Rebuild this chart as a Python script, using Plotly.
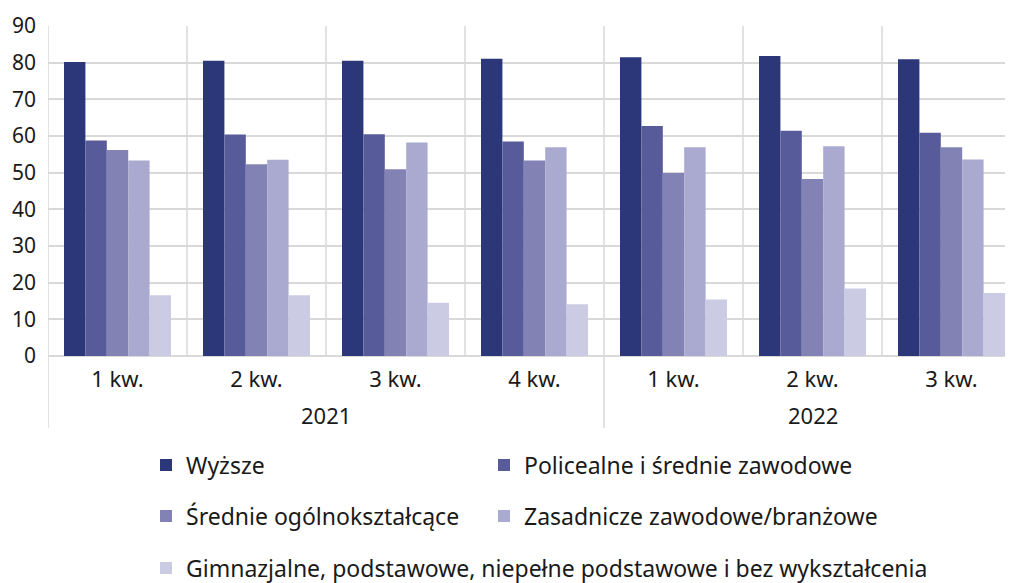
import plotly.graph_objects as go

quarters = ["1 kw.", "2 kw.", "3 kw.", "4 kw.", "1 kw.", "2 kw.", "3 kw."]
years = ["2021", "2022"]
year_spans = [(0, 3), (4, 6)]

series_names = [
    "Wyższe",
    "Policealne i średnie zawodowe",
    "Średnie ogólnokształcące",
    "Zasadnicze zawodowe/branżowe",
    "Gimnazjalne, podstawowe, niepełne podstawowe i bez wykształcenia",
]
wyzsze = [80.2, 80.5, 80.5, 81.1, 81.5, 81.8, 80.9]
policealne = [58.8, 60.4, 60.5, 58.5, 62.7, 61.4, 60.9]
srednie = [56.2, 52.3, 50.9, 53.3, 49.9, 48.3, 56.9]
zasadnicze = [53.3, 53.5, 58.2, 56.9, 56.9, 57.2, 53.6]
gimnazjalne = [16.6, 16.6, 14.5, 14.1, 15.4, 18.4, 17.2]
series_values = [wyzsze, policealne, srednie, zasadnicze, gimnazjalne]
colors = ["#2b3778", "#585b99", "#8283b4", "#aaaad0", "#cbcbe4"]
legend_ids = ["legend", "legend2", "legend3", "legend4", "legend5"]

FONT = "Noto Sans"
TXT = "#1a1a1a"
GRID = "#d9d9d9"

# page has an 8px body margin; size the figure to the visible area
OFF = 8
W, H = 1013 - OFF, 583 - OFF
ML, MT = 48 - OFF, 26 - OFF
zero_px = 356 - OFF
MB = H - zero_px
plot_h = H - MT - MB
cat_px = 139.0
x_right = -0.5 + (W - ML) / cat_px

xs = list(range(len(quarters)))
fig = go.Figure()
for name, vals, col, lg in zip(series_names, series_values, colors, legend_ids):
    fig.add_trace(go.Bar(x=xs, y=vals, name=name, marker=dict(color=col, line=dict(width=0)),
                         legend=lg, showlegend=True))

shapes = []
for b in [0.5, 1.5, 2.5, 4.5, 5.5]:
    shapes.append(dict(type="line", xref="x", yref="y", x0=b, x1=b, y0=0, y1=90,
                       line=dict(color=GRID, width=1.5), layer="below"))
ext = -(428 - 356) / plot_h
for b in [-0.5, 3.5]:
    shapes.append(dict(type="line", xref="x", yref="paper", x0=b, x1=b, y0=ext, y1=1,
                       line=dict(color=GRID, width=1.5), layer="below"))

annotations = []
for yr, (a, b) in zip(years, year_spans):
    annotations.append(dict(text=yr, xref="x", yref="paper", x=(a + b) / 2,
                            y=-(415 - 356) / plot_h, yanchor="middle", showarrow=False,
                            font=dict(family=FONT, size=22, color=TXT)))

legend_font = dict(family=FONT, size=23, color=TXT)
legend_common = dict(orientation="h", xref="container", yref="container", xanchor="left",
                     yanchor="middle", font=legend_font, bgcolor="rgba(0,0,0,0)",
                     visible=True)


def lx(text_px):
    return (text_px - OFF - 41) / W


def ly(px):
    return 1 - (px - OFF) / H


fig.update_layout(
    width=W, height=H,
    margin=dict(l=ML, r=0, t=MT, b=MB, pad=0),
    paper_bgcolor="white", plot_bgcolor="white",
    showlegend=True,
    barmode="group", bargap=32 / 139, bargroupgap=0,
    font=dict(family=FONT, color=TXT),
    xaxis=dict(range=[-0.5, x_right], tickvals=xs, ticktext=quarters, showgrid=False,
               zeroline=False, showline=False, ticks="", ticklabelstandoff=8,
               tickfont=dict(family=FONT, size=22, color=TXT)),
    yaxis=dict(range=[0, 90], tickvals=list(range(0, 91, 10)), showgrid=True,
               gridcolor=GRID, gridwidth=1.5, zeroline=True, zerolinecolor=GRID,
               zerolinewidth=1.5, showline=False, ticks="", ticklabelstandoff=11,
               tickfont=dict(family=FONT, size=21, color=TXT)),
    shapes=shapes,
    annotations=annotations,
    legend=dict(x=lx(187), y=ly(465), **legend_common),
    legend2=dict(x=lx(525), y=ly(465), **legend_common),
    legend3=dict(x=lx(187), y=ly(516), **legend_common),
    legend4=dict(x=lx(525), y=ly(516), **legend_common),
    legend5=dict(x=lx(187), y=ly(568), **legend_common),
)

fig.write_html("out.html")
